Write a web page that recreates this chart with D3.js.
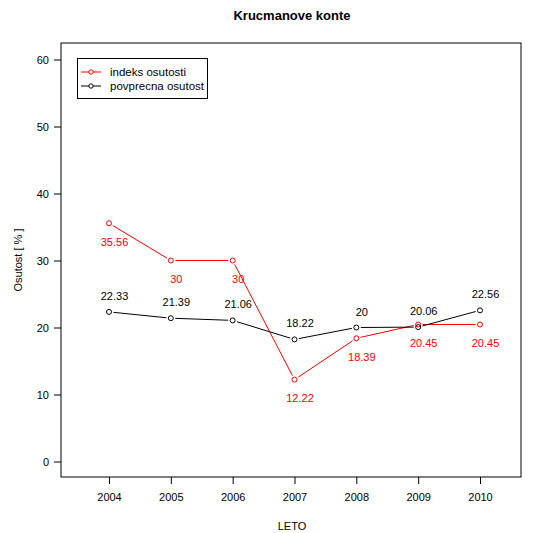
<!DOCTYPE html>
<html><head><meta charset="utf-8">
<script src="https://cdn.jsdelivr.net/npm/d3@7"></script>
<style>body{margin:0;background:#fff}svg{font-family:"Liberation Sans",Arial,sans-serif}</style>
</head><body><svg id="c" width="533" height="533"></svg>
<script>
const years = [2004, 2005, 2006, 2007, 2008, 2009, 2010];
const indeks = [35.56, 30, 30, 12.22, 18.39, 20.45, 20.45];
const povprecna = [22.33, 21.39, 21.06, 18.22, 20, 20.06, 22.56];
const yTicks = [0, 10, 20, 30, 40, 50, 60];
const seriesNames = ["indeks osutosti", "povprecna osutost"];
const seriesColors = ["#ff0000", "#000000"];

const svg = d3.select("#c");
const L = 61, R = 521, T = 43, B = 477;
const x = d3.scalePoint().domain(years).range([109, 480]);
const y = d3.scaleLinear().domain([0, 60]).range([461.5, 59.5]);

// box
svg.append("rect").attr("x", L).attr("y", T).attr("width", R - L).attr("height", B - T)
  .attr("fill", "none").attr("stroke", "#000").attr("stroke-width", 1);

// axes
const ya = svg.append("g").attr("transform", `translate(${L},0)`)
  .call(d3.axisLeft(y).tickValues(yTicks).tickSize(7).tickPadding(5));
const xa = svg.append("g").attr("transform", `translate(0,${B})`)
  .call(d3.axisBottom(x).tickValues(years).tickSize(7).tickPadding(9).tickFormat(d3.format("d")));
[ya, xa].forEach(g => {
  g.select(".domain").remove();
  g.selectAll("text").attr("font-size", 11).attr("fill", "#000").attr("font-family", '"Liberation Sans",Arial,sans-serif');
  g.selectAll("line").attr("stroke", "#000");
});

// titles
svg.append("text").attr("x", 292).attr("y", 20).attr("text-anchor", "middle")
  .attr("font-size", 13).attr("font-weight", "bold").text("Krucmanove konte");
svg.append("text").attr("x", 292).attr("y", 530).attr("text-anchor", "middle")
  .attr("font-size", 11).text("LETO");
svg.append("text").attr("transform", "translate(22,260) rotate(-90)").attr("text-anchor", "middle")
  .attr("font-size", 11).text("Osutost [ % ]");

function drawSeries(vals, color, labelPos) {
  const g = svg.append("g");
  const pts = vals.map((v, i) => [x(years[i]), y(v)]);
  const gap = 4.5;
  for (let i = 0; i < pts.length - 1; i++) {
    const [x1, y1] = pts[i], [x2, y2] = pts[i + 1];
    const dx = x2 - x1, dy = y2 - y1, len = Math.hypot(dx, dy);
    if (len <= 2 * gap) continue;
    const ux = dx / len, uy = dy / len;
    g.append("line").attr("x1", x1 + ux * gap).attr("y1", y1 + uy * gap)
      .attr("x2", x2 - ux * gap).attr("y2", y2 - uy * gap)
      .attr("stroke", color).attr("stroke-width", 1);
  }
  g.selectAll("circle").data(pts).join("circle")
    .attr("cx", d => d[0]).attr("cy", d => d[1]).attr("r", 2.5)
    .attr("fill", "none").attr("stroke", color).attr("stroke-width", 1);
  g.selectAll("text").data(vals).join("text")
    .attr("x", (d, i) => x(years[i]) + 5.5)
    .attr("y", (d, i) => y(d) + (labelPos === "below" ? 22.5 : -12))
    .attr("text-anchor", "middle").attr("font-size", 11).attr("fill", color)
    .text(d => d);
}
drawSeries(indeks, seriesColors[0], "below");
drawSeries(povprecna, seriesColors[1], "above");

// legend
const lg = svg.append("g");
lg.append("rect").attr("x", 77.5).attr("y", 58.5).attr("width", 130).attr("height", 40)
  .attr("fill", "#fff").attr("stroke", "#000").attr("stroke-width", 1);
seriesNames.forEach((n, i) => {
  const yy = 72 + i * 14;
  lg.append("line").attr("x1", 81).attr("x2", 101).attr("y1", yy).attr("y2", yy)
    .attr("stroke", seriesColors[i]);
  lg.append("circle").attr("cx", 91).attr("cy", yy).attr("r", 2.2)
    .attr("fill", "#fff").attr("stroke", seriesColors[i]);
  lg.append("text").attr("x", 110).attr("y", yy + 4).attr("font-size", 11.5).text(n);
});
</script></body></html>
